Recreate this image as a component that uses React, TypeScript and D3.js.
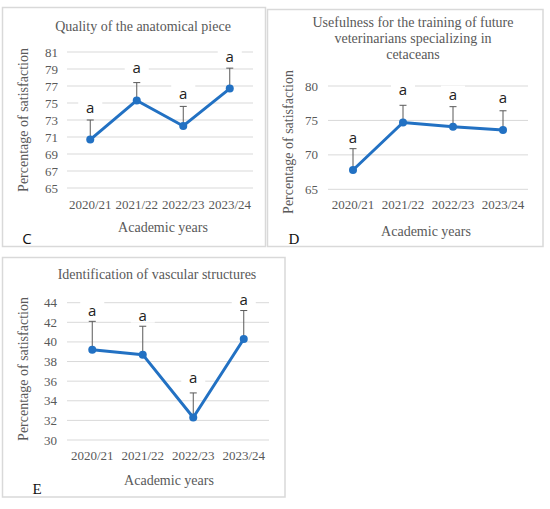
import * as d3 from "d3";

const years = ["2020/21", "2021/22", "2022/23", "2023/24"];

const qualityMean = [70.7, 75.3, 72.3, 76.7];
const qualityUpper = [73.0, 77.4, 74.6, 79.1];
const qualityTicks = [65, 67, 69, 71, 73, 75, 77, 79, 81];

const usefulMean = [67.8, 74.7, 74.1, 73.6];
const usefulUpper = [70.9, 77.2, 77.0, 76.4];
const usefulTicks = [65, 70, 75, 80];

const vascularMean = [39.2, 38.7, 32.3, 40.3];
const vascularUpper = [42.1, 41.6, 34.8, 43.2];
const vascularTicks = [30, 32, 34, 36, 38, 40, 42, 44];

const groupLetters = ["a", "a", "a", "a"];

const BLUE = "#2271c3";
const GREY = "#595959";
const GRID = "#d9d9d9";
const SERIF = "'Liberation Serif', 'Times New Roman', serif";
const SANS = "'Open Sans', 'Liberation Sans', sans-serif";

type PanelProps = {
  mean: number[];
  upper: number[];
  ticks: number[];
  title: string[];
  letter: string;
  letterFont: string;
  box: [number, number, number, number];
  plot: { left: number; right: number; top: number; bottom: number };
  titleX: number;
  titleY: number[];
  tickRight: number;
  yTitleX: number;
  yTitleY: number;
  xTickY: number;
  xTitle: [number, number];
  letterPos: [number, number];
  labelOffset: number;
};

const Panel = (p: PanelProps) => {
  const x = d3.scalePoint<string>().domain(years).range([p.plot.left, p.plot.right]).padding(0.5);
  const y = d3.scaleLinear()
    .domain([p.ticks[0], p.ticks[p.ticks.length - 1]])
    .range([p.plot.bottom, p.plot.top]);
  const line = d3.line<number>()
    .x((_, i) => x(years[i])!)
    .y((d) => y(d));

  return (
    <g>
      <rect x={p.box[0]} y={p.box[1]} width={p.box[2] - p.box[0]} height={p.box[3] - p.box[1]}
        fill="white" stroke={GRID} strokeWidth={1.5} />
      {p.title.map((t, i) => (
        <text key={i} x={p.titleX} y={p.titleY[i]} textAnchor="middle" dominantBaseline="central"
          fontFamily={SERIF} fontSize={14} fill={GREY}>{t}</text>
      ))}
      {p.ticks.map((t) => (
        <g key={t}>
          <line x1={p.plot.left} x2={p.plot.right} y1={y(t)} y2={y(t)} stroke={GRID} strokeWidth={1} />
          <text x={p.tickRight} y={y(t)} textAnchor="end" dominantBaseline="central"
            fontFamily={SERIF} fontSize={13} fill={GREY}>{t}</text>
        </g>
      ))}
      {years.map((yr) => (
        <text key={yr} x={x(yr)} y={p.xTickY} textAnchor="middle" dominantBaseline="central"
          fontFamily={SERIF} fontSize={13} fill={GREY}>{yr}</text>
      ))}
      <text transform={`translate(${p.yTitleX},${p.yTitleY}) rotate(-90)`} textAnchor="middle"
        dominantBaseline="central" fontFamily={SERIF} fontSize={14} fill={GREY}>
        Percentage of satisfaction
      </text>
      <text x={p.xTitle[0]} y={p.xTitle[1]} textAnchor="middle" dominantBaseline="central"
        fontFamily={SERIF} fontSize={14} fill={GREY}>Academic years</text>
      {p.mean.map((m, i) => {
        const cx = x(years[i])!;
        const top = y(p.upper[i]);
        const ly = y(m) - p.labelOffset;
        return (
          <g key={i}>
            <line x1={cx} x2={cx} y1={y(m)} y2={top} stroke={GREY} strokeWidth={1} />
            <line x1={cx - 3.5} x2={cx + 3.5} y1={top} y2={top} stroke={GREY} strokeWidth={1} />
            <rect x={cx - 12} y={ly - 8} width={24} height={16} fill="white" />
            <text x={cx} y={ly} textAnchor="middle" dominantBaseline="central"
              fontFamily={SANS} fontSize={15} fill="#222">{groupLetters[i]}</text>
          </g>
        );
      })}
      <path d={line(p.mean) ?? ""} fill="none" stroke={BLUE} strokeWidth={3} strokeLinejoin="round" />
      {p.mean.map((m, i) => (
        <circle key={i} cx={x(years[i])} cy={y(m)} r={4} fill={BLUE} />
      ))}
      <text x={p.letterPos[0]} y={p.letterPos[1]} textAnchor="middle" dominantBaseline="central"
        fontFamily={p.letterFont} fontSize={15} fill="#111">{p.letter}</text>
    </g>
  );
};

export default function App() {
  return (
    <svg width={550} height={509} style={{ position: "absolute", left: 0, top: 0, background: "white" }}>
      <Panel
        mean={qualityMean} upper={qualityUpper} ticks={qualityTicks}
        title={["Quality of the anatomical piece"]}
        letter="C" letterFont={SANS}
        box={[2.5, 7.5, 265.5, 246.5]}
        plot={{ left: 67, right: 253, top: 52, bottom: 188 }}
        titleX={143} titleY={[26]}
        tickRight={58} yTitleX={23} yTitleY={120}
        xTickY={204} xTitle={[163, 227]} letterPos={[27, 238]} labelOffset={33}
      />
      <Panel
        mean={usefulMean} upper={usefulUpper} ticks={usefulTicks}
        title={["Usefulness for the training of future", "veterinarians specializing in", "cetaceans"]}
        letter="D" letterFont={SERIF}
        box={[267.5, 9.5, 543, 246.5]}
        plot={{ left: 328, right: 528, top: 86, bottom: 189.3 }}
        titleX={413} titleY={[22.7, 38.3, 54]}
        tickRight={318} yTitleX={288} yTitleY={142}
        xTickY={204} xTitle={[426, 231.7]} letterPos={[294, 239]} labelOffset={33}
      />
      <Panel
        mean={vascularMean} upper={vascularUpper} ticks={vascularTicks}
        title={["Identification of vascular structures"]}
        letter="E" letterFont={SERIF}
        box={[2.5, 257.5, 285, 497]}
        plot={{ left: 67, right: 269, top: 302.7, bottom: 440 }}
        titleX={157} titleY={[274]}
        tickRight={57} yTitleX={23} yTitleY={369}
        xTickY={455} xTitle={[169, 480]} letterPos={[37, 489]} labelOffset={40}
      />
    </svg>
  );
}
